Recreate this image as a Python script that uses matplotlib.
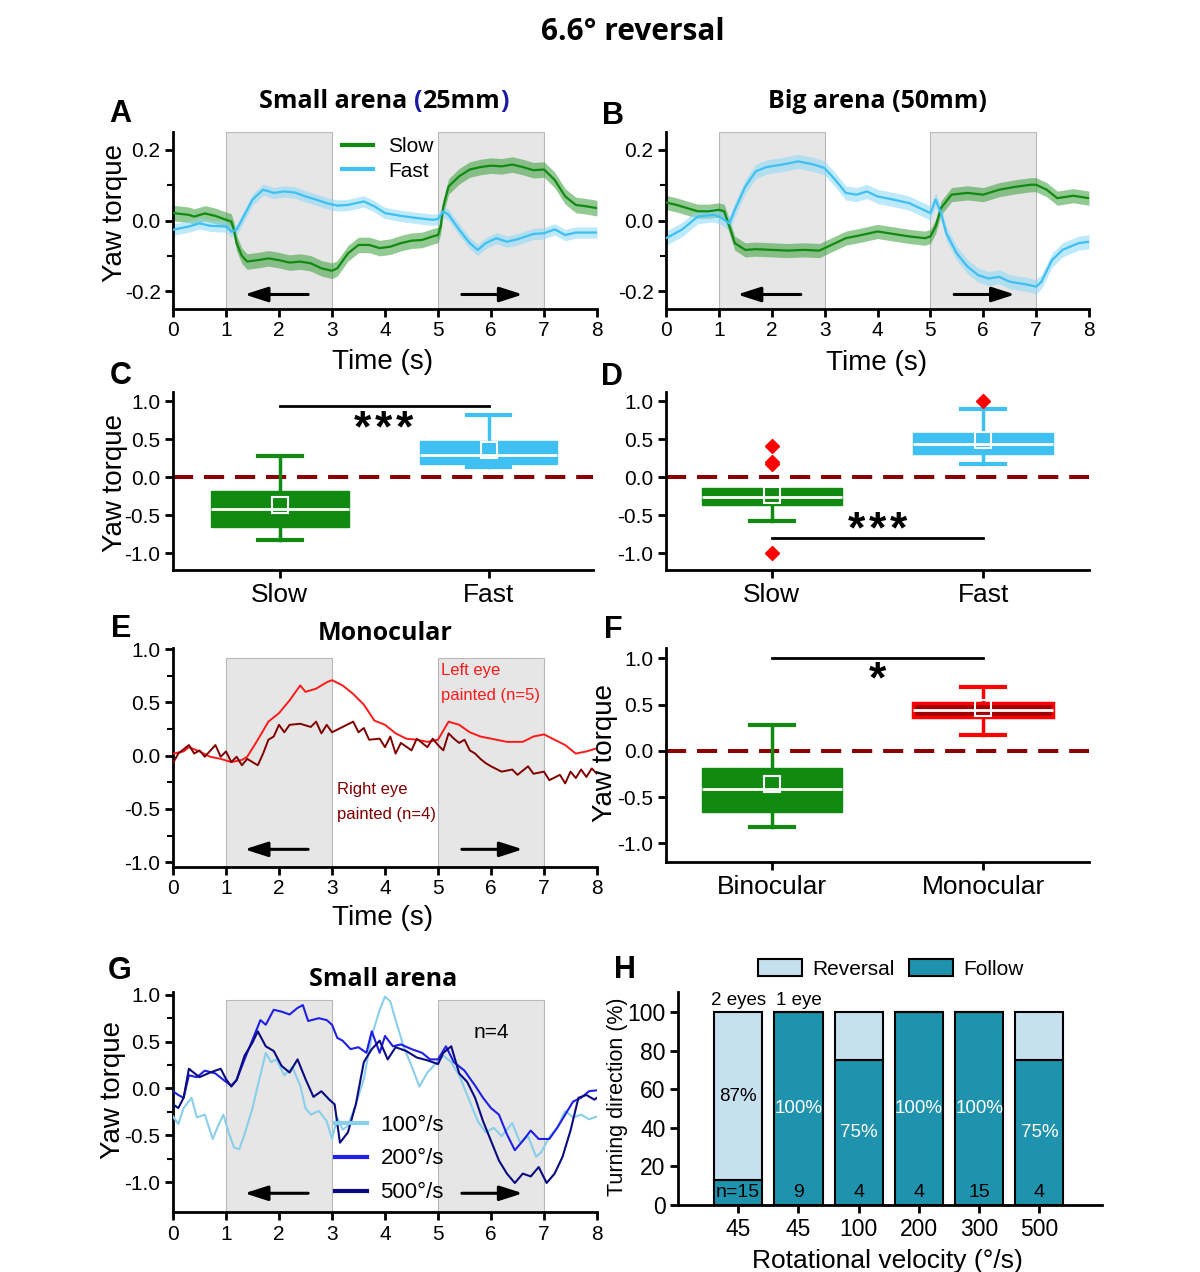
import matplotlib
matplotlib.use('Agg')
import matplotlib.pyplot as plt
import numpy as np

plt.rcParams['font.family'] = ['Liberation Sans', 'DejaVu Sans']
plt.rcParams['axes.unicode_minus'] = False

# ---------------- data ----------------
stim_windows = [(1, 3), (5, 7)]

# A: small arena, (time s, yaw torque)
a_slow = [(0, 0.021), (0.3, 0.016), (0.4, 0.011), (0.6, 0.02), (0.8, 0.013), (1.0, 0.002), (1.1, -0.003),
          (1.15, -0.026), (1.2, -0.064), (1.3, -0.10), (1.4, -0.116), (1.6, -0.112), (1.8, -0.107),
          (2.0, -0.112), (2.2, -0.119), (2.4, -0.116), (2.6, -0.121), (2.8, -0.135), (3.0, -0.142),
          (3.1, -0.135), (3.3, -0.093), (3.5, -0.069), (3.7, -0.069), (3.9, -0.078), (4.1, -0.074),
          (4.3, -0.064), (4.5, -0.057), (4.7, -0.055), (4.9, -0.045), (5.0, -0.041), (5.05, -0.017),
          (5.1, 0.04), (5.2, 0.096), (5.4, 0.125), (5.6, 0.144), (5.8, 0.151), (6.0, 0.155), (6.2, 0.153),
          (6.4, 0.158), (6.6, 0.151), (6.8, 0.142), (7.0, 0.144), (7.2, 0.115), (7.4, 0.068), (7.6, 0.044),
          (7.8, 0.04), (8.0, 0.035)]
a_fast = [(0, -0.026), (0.3, -0.017), (0.5, -0.008), (0.7, -0.015), (1.0, -0.017), (1.1, -0.031), (1.2, -0.026),
          (1.3, 0.002), (1.5, 0.059), (1.7, 0.087), (1.9, 0.078), (2.1, 0.082), (2.3, 0.079), (2.5, 0.068),
          (2.7, 0.059), (2.9, 0.049), (3.1, 0.042), (3.3, 0.044), (3.6, 0.054), (3.8, 0.04), (4.0, 0.021),
          (4.3, 0.013), (4.6, 0.007), (4.9, 0.002), (5.0, 0.004), (5.1, 0.026), (5.2, 0.016), (5.4, -0.026),
          (5.6, -0.064), (5.75, -0.083), (5.9, -0.064), (6.1, -0.05), (6.3, -0.06), (6.5, -0.053),
          (6.8, -0.038), (7.0, -0.036), (7.2, -0.025), (7.4, -0.041), (7.6, -0.034), (8.0, -0.034)]
a_sem = [0.022, 0.016]

# B: big arena
b_slow = [(0, 0.051), (0.2, 0.044), (0.4, 0.035), (0.6, 0.026), (0.8, 0.026), (1.0, 0.03), (1.1, 0.026),
          (1.2, -0.017), (1.3, -0.064), (1.5, -0.083), (1.7, -0.081), (2.0, -0.083), (2.3, -0.085),
          (2.6, -0.083), (2.9, -0.085), (3.0, -0.078), (3.2, -0.064), (3.4, -0.05), (3.7, -0.041),
          (4.0, -0.031), (4.3, -0.038), (4.6, -0.045), (4.9, -0.05), (5.0, -0.045), (5.1, -0.017),
          (5.2, 0.035), (5.4, 0.073), (5.7, 0.078), (6.0, 0.073), (6.3, 0.087), (6.6, 0.095), (6.9, 0.101),
          (7.0, 0.101), (7.2, 0.087), (7.4, 0.063), (7.7, 0.07), (8.0, 0.063)]
b_fast = [(0, -0.05), (0.3, -0.026), (0.6, 0.011), (0.9, 0.016), (1.0, 0.011), (1.1, 0.002), (1.2, -0.008),
          (1.3, 0.03), (1.5, 0.096), (1.7, 0.139), (1.9, 0.151), (2.2, 0.158), (2.5, 0.167), (2.8, 0.158),
          (3.0, 0.148), (3.2, 0.115), (3.4, 0.078), (3.6, 0.073), (3.8, 0.082), (4.0, 0.068), (4.3, 0.059),
          (4.6, 0.049), (4.8, 0.035), (5.0, 0.021), (5.1, 0.059), (5.2, 0.021), (5.3, -0.036), (5.5, -0.093),
          (5.7, -0.13), (5.9, -0.154), (6.1, -0.164), (6.3, -0.159), (6.5, -0.173), (6.8, -0.18),
          (7.0, -0.187), (7.1, -0.173), (7.3, -0.112), (7.5, -0.083), (7.8, -0.064), (8.0, -0.06)]
b_sem = [0.02, 0.02]

# C, D, F: box statistics
c_labels = ['Slow', 'Fast']
c_q1 = [-0.66, 0.175]
c_q3 = [-0.18, 0.47]
c_med = [-0.42, 0.29]
c_mean = [-0.36, 0.36]
c_lo = [-0.82, 0.13]
c_hi = [0.28, 0.82]
c_fliers = [[], []]

d_labels = ['Slow', 'Fast']
d_q1 = [-0.37, 0.30]
d_q3 = [-0.145, 0.58]
d_med = [-0.26, 0.44]
d_mean = [-0.23, 0.49]
d_lo = [-0.575, 0.175]
d_hi = [-0.145, 0.89]
d_fliers = [[0.41, 0.20, 0.18, -1.0], [1.0]]

f_labels = ['Binocular', 'Monocular']
f_q1 = [-0.66, 0.37]
f_q3 = [-0.19, 0.52]
f_med = [-0.41, 0.44]
f_mean = [-0.36, 0.46]
f_lo = [-0.82, 0.17]
f_hi = [0.28, 0.69]
f_fliers = [[], []]

# E: monocular
e_left = [(0, 0.02), (0.2, 0.04), (0.3, 0.08), (0.5, 0.04), (0.7, -0.01), (0.9, -0.03), (1.1, -0.06),
          (1.3, -0.04), (1.4, -0.01), (1.6, 0.15), (1.8, 0.32), (2.0, 0.40), (2.2, 0.52), (2.4, 0.66),
          (2.5, 0.60), (2.7, 0.63), (2.9, 0.69), (3.0, 0.71), (3.2, 0.66), (3.4, 0.58), (3.6, 0.48),
          (3.8, 0.33), (4.0, 0.29), (4.2, 0.21), (4.4, 0.16), (4.6, 0.15), (4.8, 0.13), (5.0, 0.15),
          (5.2, 0.32), (5.4, 0.29), (5.6, 0.22), (5.8, 0.18), (6.0, 0.16), (6.3, 0.13), (6.6, 0.13),
          (6.8, 0.18), (7.0, 0.20), (7.2, 0.15), (7.4, 0.10), (7.6, 0.02), (7.8, 0.04), (8.0, 0.07)]
e_right = [(0, -0.07), (0.1, 0.02), (0.3, 0.10), (0.4, 0.02), (0.5, 0.05), (0.6, -0.01), (0.8, 0.10),
           (0.9, -0.01), (1.0, 0.04), (1.1, -0.06), (1.2, -0.01), (1.3, -0.09), (1.4, -0.03), (1.6, -0.09),
           (1.7, 0.02), (1.8, 0.15), (1.9, 0.18), (2.0, 0.29), (2.1, 0.22), (2.2, 0.29), (2.4, 0.30),
           (2.6, 0.27), (2.7, 0.32), (2.8, 0.21), (2.9, 0.29), (3.0, 0.22), (3.2, 0.27), (3.4, 0.32),
           (3.5, 0.22), (3.6, 0.26), (3.7, 0.15), (3.9, 0.16), (4.0, 0.08), (4.1, 0.18), (4.2, 0.02),
           (4.3, 0.12), (4.5, 0.05), (4.6, 0.16), (4.8, 0.08), (4.9, 0.16), (5.0, 0.10), (5.1, 0.05),
           (5.2, 0.21), (5.3, 0.16), (5.4, 0.12), (5.5, 0.15), (5.6, 0.05), (5.7, 0.02), (5.8, -0.03),
           (5.9, -0.07), (6.0, -0.10), (6.2, -0.15), (6.4, -0.13), (6.5, -0.18), (6.7, -0.10), (6.8, -0.17),
           (7.0, -0.15), (7.1, -0.23), (7.3, -0.18), (7.4, -0.26), (7.5, -0.15), (7.6, -0.21), (7.7, -0.13),
           (7.8, -0.20), (7.9, -0.12), (8.0, -0.17)]

# G: small arena, three velocities
g_100 = [(0, -0.30), (0.1, -0.38), (0.2, -0.21), (0.35, -0.10), (0.45, -0.31), (0.6, -0.28), (0.75, -0.54),
         (0.85, -0.40), (0.95, -0.28), (1.05, -0.47), (1.15, -0.63), (1.25, -0.65), (1.35, -0.49),
         (1.5, -0.21), (1.6, 0.03), (1.75, 0.38), (1.85, 0.28), (1.95, 0.31), (2.1, 0.14), (2.25, 0.23),
         (2.4, 0.03), (2.5, -0.21), (2.6, -0.28), (2.75, -0.24), (2.9, -0.35), (3.0, -0.54), (3.1, -0.31),
         (3.2, -0.44), (3.3, -0.40), (3.45, -0.17), (3.6, 0.10), (3.75, 0.56), (3.9, 0.84), (4.0, 0.98),
         (4.1, 0.93), (4.2, 0.73), (4.35, 0.45), (4.5, 0.24), (4.65, 0.02), (4.8, 0.17), (4.95, 0.26),
         (5.1, 0.35), (5.25, 0.28), (5.4, 0.14), (5.6, -0.14), (5.75, -0.35), (5.9, -0.47), (6.05, -0.42),
         (6.2, -0.51), (6.4, -0.37), (6.55, -0.58), (6.7, -0.51), (6.85, -0.73), (6.95, -0.68), (7.1, -0.52),
         (7.25, -0.42), (7.4, -0.24), (7.55, -0.31), (7.7, -0.28), (7.85, -0.33), (8.0, -0.30)]
g_200 = [(0, -0.03), (0.1, -0.07), (0.2, -0.10), (0.3, 0.14), (0.45, 0.12), (0.6, 0.19), (0.8, 0.16),
         (1.0, 0.07), (1.1, 0.03), (1.2, 0.09), (1.35, 0.31), (1.5, 0.52), (1.65, 0.73), (1.75, 0.68),
         (1.9, 0.84), (2.05, 0.82), (2.2, 0.79), (2.35, 0.86), (2.45, 0.89), (2.55, 0.72), (2.75, 0.75),
         (2.9, 0.73), (3.0, 0.68), (3.1, 0.54), (3.2, 0.51), (3.35, 0.42), (3.5, 0.44), (3.65, 0.38),
         (3.75, 0.61), (3.9, 0.38), (4.0, 0.56), (4.15, 0.45), (4.3, 0.47), (4.5, 0.42), (4.7, 0.38),
         (4.85, 0.31), (5.0, 0.31), (5.15, 0.45), (5.3, 0.28), (5.5, 0.19), (5.7, 0.03), (5.85, -0.10),
         (6.0, -0.21), (6.15, -0.28), (6.3, -0.49), (6.45, -0.66), (6.6, -0.56), (6.75, -0.45), (6.9, -0.54),
         (7.1, -0.54), (7.25, -0.42), (7.4, -0.28), (7.55, -0.14), (7.7, -0.10), (7.85, -0.03), (8.0, -0.02)]
g_500 = [(0, -0.17), (0.1, -0.21), (0.2, -0.10), (0.3, 0.21), (0.5, 0.12), (0.7, 0.17), (0.9, 0.21),
         (1.0, 0.10), (1.1, 0.02), (1.2, 0.09), (1.35, 0.35), (1.5, 0.49), (1.6, 0.61), (1.75, 0.45),
         (1.9, 0.40), (2.05, 0.24), (2.2, 0.17), (2.35, 0.31), (2.5, 0.10), (2.65, -0.09), (2.8, -0.03),
         (2.95, -0.12), (3.05, -0.17), (3.15, -0.58), (3.3, -0.47), (3.45, -0.17), (3.6, 0.28), (3.75, 0.42),
         (3.9, 0.51), (4.05, 0.31), (4.2, 0.44), (4.4, 0.40), (4.6, 0.33), (4.8, 0.30), (5.0, 0.26),
         (5.1, 0.38), (5.25, 0.45), (5.4, 0.16), (5.55, 0.07), (5.7, -0.10), (5.85, -0.35), (6.0, -0.56),
         (6.15, -0.77), (6.3, -0.91), (6.45, -1.01), (6.6, -0.91), (6.75, -0.94), (6.9, -0.84), (7.05, -1.01),
         (7.2, -0.91), (7.35, -0.73), (7.5, -0.45), (7.65, -0.10), (7.8, -0.07), (7.95, -0.12), (8.0, -0.10)]
g_labels = ['100°/s', '200°/s', '500°/s']

# H: turning direction
h_cats = ['45', '45', '100', '200', '300', '500']
h_follow = [13, 100, 75, 100, 100, 75]
h_reversal = [87, 0, 25, 0, 0, 25]
h_n = ['n=15', '9', '4', '4', '15', '4']
h_groups = ['2 eyes', '1 eye']

# ---------------- colours ----------------
GREEN = '#118a11'
BLUE = '#3ec0f2'
DASH = '#8b0000'
FOLLOW = '#1f93ad'
REVERSAL = '#c6e0f0'

W, H = 1200, 1272
fig = plt.figure(figsize=(W / 100, H / 100), dpi=100)


def make_ax(x0, x1, ytop, ybot):
    return fig.add_axes([x0 / W, 1 - ybot / H, (x1 - x0) / W, (ybot - ytop) / H])


def style(ax, labelsize=15):
    for s in ['top', 'right']:
        ax.spines[s].set_visible(False)
    for s in ['left', 'bottom']:
        ax.spines[s].set_linewidth(2)
    ax.tick_params(width=2, length=6, labelsize=labelsize, direction='out', pad=3)
    ax.tick_params(which='minor', width=1.5, length=4)
    ax.patch.set_alpha(0)


def stim(ax, ytop, yarr):
    for a, b in stim_windows:
        ax.axvspan(a, b, ymin=0, ymax=ytop, fc='#e6e6e6', ec='#b8b8b8', lw=0.8, zorder=0)
    ap = dict(arrowstyle='-|>,head_length=1.4,head_width=0.45', color='k', lw=2.2, shrinkA=0, shrinkB=0)
    ax.annotate('', xy=(1.35, yarr), xytext=(2.55, yarr), arrowprops=ap)
    ax.annotate('', xy=(6.6, yarr), xytext=(5.45, yarr), arrowprops=ap)


def unzip(pairs):
    t, y = zip(*pairs)
    return np.array(t), np.array(y)


def set_labels(ax, xl=None, xpos=None, yl=None, ypos=None, size=20):
    if xl:
        ax.set_xlabel(xl, fontsize=size)
        ax.xaxis.set_label_coords(*xpos)
        ax.xaxis.label.set_va('center')
    if yl:
        ax.set_ylabel(yl, fontsize=size)
        ax.yaxis.set_label_coords(*ypos)
        ax.yaxis.label.set_va('center')


def letter(x, y, s):
    fig.text(x / W, 1 - y / H, s, fontsize=22, fontweight='bold', ha='center', va='center')


def title(x, y, s, size=18):
    fig.text(x / W, 1 - y / H, s, fontsize=size, fontweight='bold', ha='center', va='center',
             family='Open Sans')


def time_panel(ax, series, sems, ylim, yarr):
    stim(ax, 1, yarr)
    for (pairs, c, bc), sem in zip(series, sems):
        t, y = unzip(pairs)
        ax.fill_between(t, y - sem, y + sem, color=bc, alpha=0.55, lw=0, zorder=2)
        ax.plot(t, y, color=c, lw=1.6, zorder=3)
    ax.set_xlim(0, 8)
    ax.set_ylim(*ylim)
    ax.set_xticks(range(9))
    ax.set_yticks([-0.2, 0.0, 0.2])
    ax.set_yticks([-0.1, 0.1], minor=True)
    ax.yaxis.set_major_formatter('{x:.1f}')
    style(ax)


def box_panel(ax, labels, q1, q3, med, mean, lo, hi, fliers, colors, faces, edges):
    ax.axhline(0, color=DASH, lw=2.9, ls=(0, (5, 2.7)), zorder=1)
    for i in range(len(labels)):
        st = dict(med=med[i], q1=q1[i], q3=q3[i], whislo=lo[i], whishi=hi[i], mean=mean[i],
                  fliers=fliers[i], label=labels[i])
        c = colors[i]
        art = ax.bxp([st], positions=[i + 1], widths=0.66, showmeans=True, patch_artist=True,
                     boxprops=dict(fc=faces[i], ec=edges[i], lw=2.5 if edges[i] != faces[i] else 1),
                     medianprops=dict(color='white', lw=2),
                     whiskerprops=dict(color=c, lw=2.5), capprops=dict(color=c, lw=3), capwidths=0.21,
                     meanprops=dict(marker='s', mfc='none', mec='white', ms=11, mew=1.5),
                     flierprops=dict(marker='D', mfc='red', mec='red', ms=7),
                     manage_ticks=False, zorder=2)
        if hi[i] <= q3[i]:
            art['caps'][1].set_visible(False)
            art['whiskers'][1].set_visible(False)
    ax.set_xlim(0.49, 2.5)
    ax.set_xticks([1, 2], labels)
    ax.set_yticks([-1.0, -0.5, 0.0, 0.5, 1.0])
    ax.yaxis.set_major_formatter('{x:.1f}')
    style(ax)
    ax.tick_params(axis='x', labelsize=19)


def sig(ax, y, text, ty):
    ax.plot([1, 2], [y, y], color='k', lw=2)
    ax.text(1.5, ty, text, ha='center', va='center', fontsize=32, fontweight='bold')


# ---------------- suptitle ----------------
fig.text(633 / W, 1 - 32 / H, '6.6° reversal', fontsize=21.5, fontweight='bold', ha='center', va='center',
         family='Open Sans')

# ---------------- A ----------------
axA = make_ax(173, 597, 132, 309)
time_panel(axA, [(a_slow, GREEN, '#3a9e3a'), (a_fast, BLUE, '#8ad8f7')], a_sem, (-0.25, 0.25), -0.209)
set_labels(axA, 'Time (s)', (0.495, -0.298), 'Yaw torque', (-0.137, 0.542))
axA.legend(handles=[plt.Line2D([], [], color=GREEN, lw=3), plt.Line2D([], [], color=BLUE, lw=3)],
           labels=['Slow', 'Fast'], loc='center left', bbox_to_anchor=(342 / W, 1 - 159 / H),
           bbox_transform=fig.transFigure, frameon=False, fontsize=15, handlelength=1.5,
           handletextpad=0.7, labelspacing=0.25, borderpad=0, borderaxespad=0)

# coloured title for A
parts = [('Small arena', 'k'), ('(', '#1a1aa0'), ('25mm', 'k'), (')', '#1a1aa0')]
full = 'Small arena (25mm)'
r = fig.canvas.get_renderer()
kw = dict(fontsize=18, fontweight='bold', family='Open Sans', va='center', ha='left')


def text_width(s):
    t = fig.text(0, 0, s, **kw)
    w = t.get_window_extent(r).width
    t.remove()
    return w


x_left = 384 - text_width(full) / 2
pos = 0
for s, c in parts:
    idx = full.index(s, pos)
    end = idx + len(s)
    fig.text((x_left + text_width(full[:end]) - text_width(s)) / W, 1 - 102 / H, s, color=c, **kw)
    pos = end
letter(120, 114, 'A')

# ---------------- B ----------------
axB = make_ax(666, 1089, 132, 309)
time_panel(axB, [(b_slow, GREEN, '#3a9e3a'), (b_fast, BLUE, '#8ad8f7')], b_sem, (-0.25, 0.25), -0.209)
set_labels(axB, 'Time (s)', (0.498, -0.305))
title(877, 102, 'Big arena (50mm)')
letter(613, 116, 'B')

# ---------------- C ----------------
STARS3 = '*\u200a*\u200a*'
axC = make_ax(173, 593, 392, 570)
box_panel(axC, c_labels, c_q1, c_q3, c_med, c_mean, c_lo, c_hi, c_fliers,
          [GREEN, BLUE], [GREEN, BLUE], [GREEN, BLUE])
axC.set_ylim(-1.22, 1.12)
sig(axC, 0.93, STARS3, 0.62)
set_labels(axC, yl='Yaw torque', ypos=(-0.138, 0.489))
letter(121, 376, 'C')

# ---------------- D ----------------
axD = make_ax(666, 1089, 392, 570)
box_panel(axD, d_labels, d_q1, d_q3, d_med, d_mean, d_lo, d_hi, d_fliers,
          [GREEN, BLUE], [GREEN, BLUE], [GREEN, BLUE])
axD.set_ylim(-1.22, 1.12)
axD.set_xlim(0.5, 2.5)
sig(axD, -0.795, STARS3, -0.72)
letter(612, 377, 'D')

# ---------------- E ----------------
axE = make_ax(173, 597, 648, 867)
stim(axE, 0.955, -0.88)
t, y = unzip(e_left)
axE.plot(t, y, color='#ff1a1a', lw=1.4, zorder=3)
t, y = unzip(e_right)
axE.plot(t, y, color='#800000', lw=1.4, zorder=3)
axE.set_xlim(0, 8)
axE.set_ylim(-1.046, 1.012)
axE.set_xticks(range(9))
axE.set_yticks([-1.0, -0.5, 0.0, 0.5, 1.0])
axE.set_yticks([-0.75, -0.25, 0.25, 0.75], minor=True)
axE.yaxis.set_major_formatter('{x:.1f}')
style(axE)
set_labels(axE, 'Time (s)', (0.495, -0.234))
axE.text(5.05, 0.683, 'Left eye\npainted (n=5)', color='#ff1a1a', fontsize=12, linespacing=1.9, va='center')
axE.text(3.1, -0.435, 'Right eye\npainted (n=4)', color='#800000', fontsize=12, linespacing=1.9, va='center')
title(385, 633, 'Monocular')
letter(121, 629, 'E')

# ---------------- F ----------------
axF = make_ax(666, 1089, 648, 862)
box_panel(axF, f_labels, f_q1, f_q3, f_med, f_mean, f_lo, f_hi, f_fliers,
          [GREEN, 'red'], [GREEN, '#a00000'], [GREEN, 'red'])
axF.set_ylim(-1.2, 1.11)
axF.set_xlim(0.5, 2.5)
sig(axF, 1.0, '*', 0.76)
set_labels(axF, yl='Yaw torque', ypos=(-0.144, 0.508))
letter(613, 630, 'F')

# ---------------- G ----------------
axG = make_ax(173, 597, 992, 1212)
stim(axG, 0.965, -1.12)
for pairs, c in zip([g_100, g_200, g_500], ['#89cfea', '#1f1fe6', '#0b0b80']):
    t, y = unzip(pairs)
    axG.plot(t, y, color=c, lw=1.5, zorder=3)
axG.set_xlim(0, 8)
axG.set_ylim(-1.32, 1.03)
axG.set_xticks(range(9))
axG.set_yticks([-1.0, -0.5, 0.0, 0.5, 1.0])
axG.set_yticks([-0.75, -0.25, 0.25, 0.75], minor=True)
axG.yaxis.set_major_formatter('{x:.1f}')
style(axG)
set_labels(axG, yl='Yaw torque', ypos=(-0.142, 0.555))
axG.legend(handles=axG.lines[:3], labels=g_labels, loc='center left', bbox_to_anchor=(335 / W, 1 - 1159 / H),
           bbox_transform=fig.transFigure, frameon=False, fontsize=16, handlelength=1.45,
           handletextpad=0.6, labelspacing=0.58, borderpad=0, borderaxespad=0)
for ln in axG.get_legend().get_lines():
    ln.set_linewidth(3)
axG.text(6.0, 0.6, 'n=4', fontsize=15, ha='center', va='center')
title(383, 979, 'Small arena')
letter(120, 971, 'G')

# ---------------- H ----------------
axH = make_ax(678, 1102, 992, 1205)
x = np.arange(len(h_cats))
b1 = axH.bar(x, h_follow, width=0.8, color=FOLLOW, ec='k', lw=1.5, label='Follow', zorder=2)
b2 = axH.bar(x, h_reversal, width=0.8, bottom=h_follow, color=REVERSAL, ec='k', lw=1.5, label='Reversal', zorder=2)
for i in range(len(h_cats)):
    if h_follow[i] >= 50:
        axH.text(x[i], h_follow[i] / 2, f'{h_follow[i]}%', color='white', fontsize=13.5, ha='center', va='center')
    else:
        axH.text(x[i], h_follow[i] + h_reversal[i] / 2, f'{h_reversal[i]}%', color='k', fontsize=13.5,
                 ha='center', va='center')
    axH.text(x[i], 6.7, h_n[i], color='k', fontsize=14, ha='center', va='center')
for i, g in enumerate(h_groups):
    axH.text(x[i], 106, g, fontsize=13.5, ha='center', va='center')
axH.set_xlim(-1.0, 6.04)
axH.set_ylim(0, 110.5)
axH.set_xticks(x, h_cats)
axH.set_yticks([0, 20, 40, 60, 80, 100])
style(axH, labelsize=16.5)
set_labels(axH, 'Rotational velocity (°/s)', (0.495, -0.262), 'Turning direction (%)', (-0.142, 0.508))
axH.xaxis.label.set_fontsize(19)
axH.yaxis.label.set_fontsize(15.5)
axH.legend(handles=[b2, b1], labels=['Reversal', 'Follow'], ncol=2, loc='center left',
           bbox_to_anchor=(758 / W, 1 - 969 / H), bbox_transform=fig.transFigure, frameon=False,
           fontsize=15, handlelength=2.1, handleheight=0.9, handletextpad=0.5, columnspacing=0.7,
           borderpad=0, borderaxespad=0)
letter(625, 970, 'H')

fig.savefig('out.png', dpi=100)
